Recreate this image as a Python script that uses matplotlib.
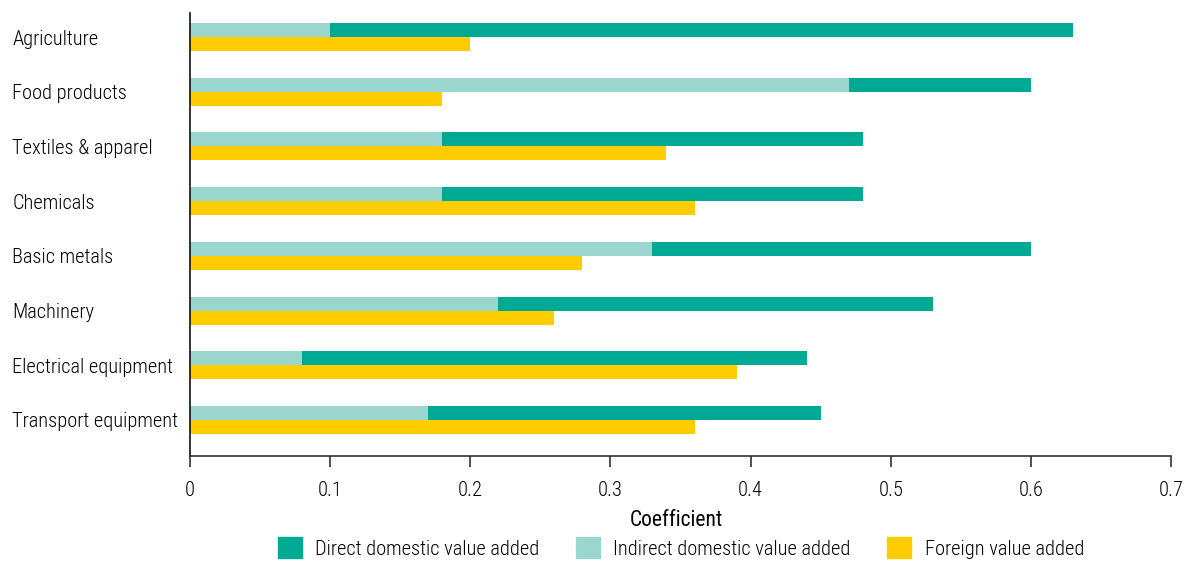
import numpy as np
import matplotlib
matplotlib.use('Agg')
import matplotlib.pyplot as plt
from matplotlib.patches import Patch

plt.rcParams['font.family'] = ['Roboto Condensed', 'Archivo Narrow', 'DejaVu Sans']
plt.rcParams['font.weight'] = 'light'

sectors = ['Agriculture', 'Food products', 'Textiles & apparel', 'Chemicals',
           'Basic metals', 'Machinery', 'Electrical equipment', 'Transport equipment']
indirect = [0.10, 0.47, 0.18, 0.18, 0.33, 0.22, 0.08, 0.17]
total_domestic = [0.63, 0.60, 0.48, 0.48, 0.60, 0.53, 0.44, 0.45]
foreign = [0.20, 0.18, 0.34, 0.36, 0.28, 0.26, 0.39, 0.36]
xticks = [0, 0.1, 0.2, 0.3, 0.4, 0.5, 0.6, 0.7]

c_direct = '#00a994'
c_indirect = '#9ad6ce'
c_foreign = '#ffcc00'

direct = np.array(total_domestic) - np.array(indirect)
y = np.arange(len(sectors))
h = 0.256

fig = plt.figure(figsize=(11.86, 5.61), dpi=100)
ax = fig.add_axes([190/1186, 105/561, 981/1186, 443/561])

ax.barh(y - h/2, indirect, height=h, color=c_indirect, linewidth=0)
ax.barh(y - h/2, direct, left=indirect, height=h, color=c_direct, linewidth=0)
ax.barh(y + h/2, foreign, height=h, color=c_foreign, linewidth=0)

ax.set_xlim(0, 0.7)
ax.set_ylim(7.66, -0.44)
ax.set_xticks(xticks)
ax.set_xticklabels(['0'] + [f'{t:g}' for t in xticks[1:]], fontsize=14.7)
ax.set_yticks(y)
ax.set_yticklabels(sectors, fontsize=14.7)
for lab in ax.get_yticklabels():
    lab.set_ha('left')
ax.tick_params(axis='y', length=0, pad=128)
ax.tick_params(axis='x', length=8, width=1.2, color='#333333', pad=10)

for s in ['top', 'right']:
    ax.spines[s].set_visible(False)
ax.spines['left'].set_color('#111111')
ax.spines['left'].set_linewidth(1.2)
ax.spines['bottom'].set_color('#333333')
ax.spines['bottom'].set_linewidth(1.2)

fig.text(676/1186, 1 - 520/561, 'Coefficient', ha='center', va='center',
         fontsize=15.5, fontweight='normal')

handles = [Patch(color=c_direct), Patch(color=c_indirect), Patch(color=c_foreign)]
labels = ['Direct domestic value added', 'Indirect domestic value added', 'Foreign value added']
fig.legend(handles, labels, loc='center', bbox_to_anchor=(681/1186, 1 - 548/561),
           ncol=3, frameon=False, fontsize=14.7, handlelength=1.15, handleheight=1.15,
           handletextpad=0.68, columnspacing=1.78)

fig.savefig('out.png', dpi=100)
